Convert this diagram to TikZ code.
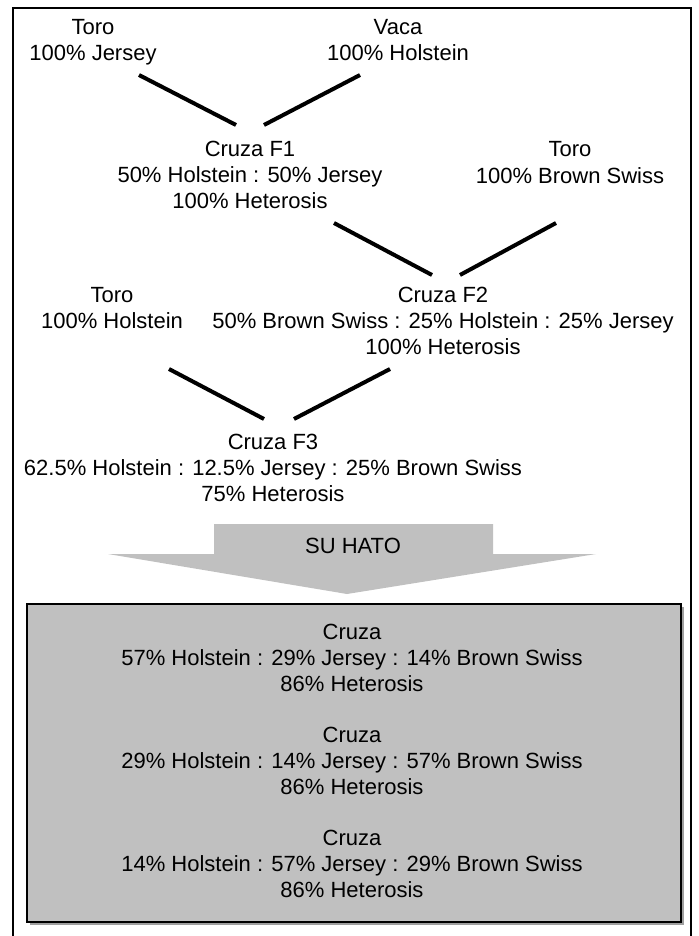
\documentclass[tikz,border=0pt]{standalone}
\usepackage{fontspec}
\setmainfont{Liberation Sans}
\definecolor{boxgray}{RGB}{192,192,192}
\begin{document}
\begin{tikzpicture}[x=1pt,y=-1pt,
  lbl/.style={align=center,font=\fontsize{22}{26.3}\selectfont,inner sep=0pt},
  link/.style={line width=4pt},
  frame/.style={line width=2pt},
]
\useasboundingbox (0,0) rectangle (698,936);
\draw[frame] (13,936) -- (13,8) -- (691,8) -- (691,936);

% generation nodes
\node[lbl] (toroJ) at (93,42.5) {Toro\\100\% Jersey};
\node[lbl] (vaca) at (398,40) {Vaca\\100\% Holstein};
\node[lbl] (f1) at (250,175) {Cruza F1\\50\% Holstein : 50\% Jersey\\100\% Heterosis};
\node[lbl] (toroB) at (570,162.5) {Toro\\100\% Brown Swiss};
\node[lbl] (toroH) at (112,308) {Toro\\100\% Holstein};
\node[lbl] (f2) at (443,321) {Cruza F2\\50\% Brown Swiss : 25\% Holstein : 25\% Jersey\\100\% Heterosis};
\node[lbl] (f3) at (273,468) {Cruza F3\\62.5\% Holstein : 12.5\% Jersey : 25\% Brown Swiss\\75\% Heterosis};

% connector end points
\coordinate (a1) at (139,75);  \coordinate (b1) at (236,125);
\coordinate (a2) at (360,75);  \coordinate (b2) at (264,125);
\coordinate (a3) at (334,223); \coordinate (b3) at (432,275);
\coordinate (a4) at (556,223); \coordinate (b4) at (460,275);
\coordinate (a5) at (169,369); \coordinate (b5) at (264,419);
\coordinate (a6) at (390,369); \coordinate (b6) at (294,419);
\draw[link] (a1) -- (b1);
\draw[link] (a2) -- (b2);
\draw[link] (a3) -- (b3);
\draw[link] (a4) -- (b4);
\draw[link] (a5) -- (b5);
\draw[link] (a6) -- (b6);

% big arrow
\fill[boxgray] (214,524) -- (493,524) -- (493,554) -- (596,554) -- (347,594)
  -- (108,554) -- (214,554) -- cycle;
\node[lbl] (hato) at (353,546) {SU HATO};

% herd box
\fill[gray!75] (29.5,606.5) rectangle (683.5,924.5);
\node[draw,line width=2.5pt,fill=boxgray,minimum width=654pt,minimum height=318pt,inner sep=0pt] (herd) at (354,763) {};
\node[lbl] (c1) at (352,658) {Cruza\\57\% Holstein : 29\% Jersey : 14\% Brown Swiss\\86\% Heterosis};
\node[lbl] (c2) at (352,761) {Cruza\\29\% Holstein : 14\% Jersey : 57\% Brown Swiss\\86\% Heterosis};
\node[lbl] (c3) at (352,864) {Cruza\\14\% Holstein : 57\% Jersey : 29\% Brown Swiss\\86\% Heterosis};
\end{tikzpicture}
\end{document}
